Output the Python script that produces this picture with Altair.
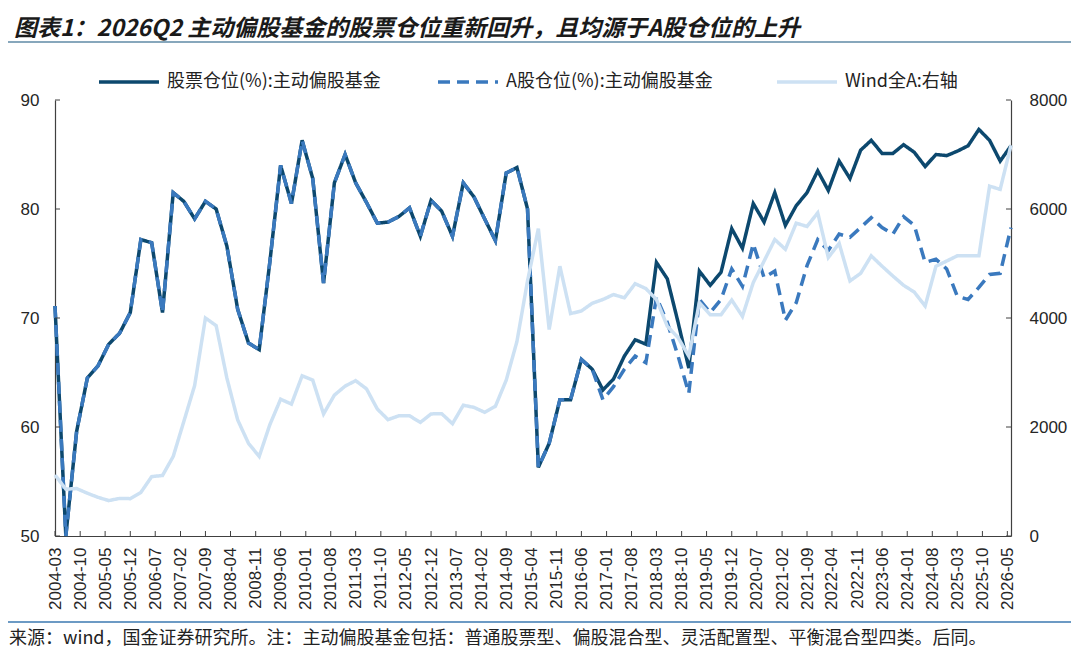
import altair as alt
import pandas as pd

# ---------------- text ----------------
S1 = "股票仓位(%):主动偏股基金"
S2 = "A股仓位(%):主动偏股基金"
S3 = "Wind全A:右轴"
TITLE = "图表1：2026Q2 主动偏股基金的股票仓位重新回升，且均源于A股仓位的上升"
FOOTER = "来源：wind，国金证券研究所。注：主动偏股基金包括：普通股票型、偏股混合型、灵活配置型、平衡混合型四类。后同。"

# ---------------- categories / ticks ----------------
quarters = pd.date_range("2004-03-01", "2026-06-01", freq="3MS")   # quarterly points
tick_dates = pd.date_range("2004-03-01", "2026-05-01", freq="7MS")  # x-axis labels
left_ticks = [50, 60, 70, 80, 90]
right_ticks = [0, 2000, 4000, 6000, 8000]

# ---------------- series ----------------
stock_pos = [
    71.1, 50.0, 59.6, 64.5, 65.6, 67.6, 68.6, 70.5, 77.2, 76.9,
    70.5, 81.5, 80.7, 79.1, 80.7, 80.0, 76.6, 70.8, 67.7, 67.1,
    75.1, 84.0, 80.5, 86.3, 82.8, 73.2, 82.4, 85.0, 82.4, 80.6,
    78.7, 78.8, 79.3, 80.1, 77.5, 80.8, 79.8, 77.5, 82.4, 81.1,
    79.1, 77.1, 83.3, 83.8, 80.0, 56.3, 58.5, 62.5, 62.5, 66.2,
    65.3, 63.4, 64.4, 66.5, 68.0, 67.6, 75.1, 73.6, 69.6, 65.4,
    74.3, 73.0, 74.2, 78.2, 76.4, 80.5, 78.8, 81.5, 78.5, 80.3,
    81.5, 83.5, 81.7, 84.4, 82.8, 85.4, 86.3, 85.1, 85.1, 85.9,
    85.2, 83.9, 85.0, 84.9, 85.3, 85.8, 87.3, 86.3, 84.4, 85.8,
]
a_share_pos = [
    71.1, 50.0, 59.6, 64.5, 65.6, 67.6, 68.6, 70.5, 77.2, 76.9,
    70.5, 81.5, 80.7, 79.1, 80.7, 80.0, 76.6, 70.8, 67.7, 67.1,
    75.1, 84.0, 80.5, 86.3, 82.8, 73.2, 82.4, 85.0, 82.4, 80.6,
    78.7, 78.8, 79.3, 80.1, 77.5, 80.8, 79.8, 77.5, 82.4, 81.1,
    79.1, 77.1, 83.3, 83.8, 80.0, 56.3, 58.5, 62.5, 62.5, 66.2,
    65.3, 62.5, 63.7, 65.3, 66.5, 65.9, 71.9, 69.6, 66.5, 63.1,
    71.7, 70.5, 71.7, 74.5, 72.9, 76.8, 73.7, 74.3, 69.8, 71.4,
    74.8, 77.2, 76.2, 77.7, 77.4, 78.3, 79.2, 78.3, 77.7, 79.3,
    78.5, 75.1, 75.4, 74.5, 72.0, 71.7, 72.8, 74.0, 74.1, 78.3,
]
wind_a = [
    1120, 860, 870, 785, 710, 650, 690, 685, 800, 1090,
    1110, 1460, 2100, 2760, 4000, 3860, 2900, 2130, 1700, 1460,
    2040, 2510, 2420, 2940, 2860, 2240, 2585, 2750, 2850, 2700,
    2330, 2135, 2205, 2205, 2085, 2240, 2245, 2060, 2400, 2360,
    2270, 2380, 2860, 3570, 4680, 5640, 3790, 4950, 4080, 4130,
    4270, 4340, 4430, 4370, 4630, 4540, 4340, 3850, 3640, 3300,
    4280, 4060, 4060, 4330, 4030, 4650, 5045, 5440, 5260, 5740,
    5680, 5930, 5110, 5370, 4680, 4820, 5140, 4950, 4770, 4600,
    4475, 4220, 4950, 5045, 5140, 5140, 5140, 6420, 6360, 7170,
]

C1, C2, C3 = "#0c486e", "#3a79be", "#cde1f3"
AX = "#404040"


def ms(d):
    return int(pd.Timestamp(d).value // 10**6)


q_ms = [ms(d) for d in quarters]
tick_ms = [ms(d) for d in tick_dates]

df1 = pd.DataFrame({"t": q_ms, "value": stock_pos, "series": S1})
df2 = pd.DataFrame({"t": q_ms, "value": a_share_pos, "series": S2})
df3 = pd.DataFrame({"t": q_ms, "value": wind_a, "series": S3})

W, H = 956, 436

# ---------------- encodings ----------------
X = alt.X(
    "t:T",
    scale=alt.Scale(type="utc", domain=[q_ms[0], q_ms[-1]], nice=False),
    axis=alt.Axis(values=tick_ms, format="%Y-%m", labelAngle=-90, ticks=False,
                  labelFontSize=17, labelPadding=11, labelOverlap=False,
                  labelFlush=False, grid=False, title=None),
)
left_scale = alt.Scale(domain=[50, 90], nice=False, zero=False)
right_scale = alt.Scale(domain=[0, 8000], nice=False)

Y_left_axis = alt.Y("value:Q", scale=left_scale,
                    axis=alt.Axis(values=left_ticks, ticks=False, labelPadding=16,
                                  labelFontSize=17, grid=False, title=None))
Y_left_none = alt.Y("value:Q", scale=left_scale, axis=None)
Y_right_axis = alt.Y("value:Q", scale=right_scale,
                     axis=alt.Axis(orient="right", values=right_ticks, format="d",
                                   ticks=False, labelPadding=18, labelFontSize=17,
                                   grid=False, title=None))
Y_right_none = alt.Y("value:Q", scale=right_scale, axis=None)

leg = alt.Legend(title=None, orient="none", legendX=42, legendY=-50,
                 direction="horizontal", symbolType="stroke", symbolSize=3600,
                 symbolStrokeWidth=3.5, labelFontSize=18, labelFont="Noto Sans CJK SC",
                 labelColor="#222222", labelLimit=500, columnPadding=50,
                 labelOffset=6, gridAlign="all", padding=0)
COLOR = alt.Color("series:N", scale=alt.Scale(domain=[S1, S2, S3], range=[C1, C2, C3]),
                  legend=leg)
DASH = alt.StrokeDash("series:N",
                      scale=alt.Scale(domain=[S1, S2, S3], range=[[1, 0], [12, 7], [1, 0]]),
                      legend=leg)

solid = alt.Chart(df1).mark_line(strokeWidth=3.5).encode(x=X, y=Y_left_axis, color=COLOR, strokeDash=DASH)
dashed = alt.Chart(df2).mark_line(strokeWidth=3.5).encode(x=X, y=Y_left_none, color=COLOR, strokeDash=DASH)
light = alt.Chart(df3).mark_line(strokeWidth=3.5).encode(x=X, y=Y_right_axis, color=COLOR, strokeDash=DASH)

# inward ticks
lt = alt.Chart(pd.DataFrame({"value": left_ticks})).mark_rule(color=AX, strokeWidth=1).encode(
    y=Y_left_none, x=alt.value(0), x2=alt.value(5))
rt = alt.Chart(pd.DataFrame({"value": right_ticks})).mark_rule(color=AX, strokeWidth=1).encode(
    y=Y_right_none, x=alt.value(W - 5), x2=alt.value(W))
xt = alt.Chart(pd.DataFrame({"t": tick_ms})).mark_rule(color=AX, strokeWidth=1).encode(
    x=X, y=alt.value(H - 5), y2=alt.value(H))

one = pd.DataFrame({"k": [0]})
title_rule = alt.Chart(one).mark_rule(color="#5f8aa6", strokeWidth=1.5).encode(
    x=alt.value(-47), x2=alt.value(W + 60), y=alt.value(-58))
foot_rule = alt.Chart(one).mark_rule(color="#3b78b1", strokeWidth=1.5).encode(
    x=alt.value(-47), x2=alt.value(W + 60), y=alt.value(522))

title_txt = alt.Chart(pd.DataFrame({"txt": [TITLE]})).mark_text(
    align="left", baseline="middle", font="Noto Sans CJK SC", fontSize=23,
    fontWeight="bold", fontStyle="italic", color="#1a1a1a").encode(
    x=alt.value(-41), y=alt.value(-71), text="txt:N")
foot_txt = alt.Chart(pd.DataFrame({"txt": [FOOTER]})).mark_text(
    align="left", baseline="middle", font="Noto Sans CJK SC", fontSize=18,
    color="#222222").encode(x=alt.value(-46), y=alt.value(539), text="txt:N")

chart = (
    alt.layer(solid, dashed, light, lt, rt, xt, title_rule, foot_rule, title_txt, foot_txt)
    .resolve_scale(y="independent")
    .properties(width=W, height=H, autosize=alt.AutoSizeParams(type="none"),
                padding={"left": 47, "top": 92, "right": 60, "bottom": 112})
    .configure_view(stroke=None)
    .configure_axis(labelFont="Liberation Sans", labelColor="#262626",
                    domainColor=AX, domainWidth=1.2)
)

chart.save("out.html", embed_options={"renderer": "svg", "actions": False})
